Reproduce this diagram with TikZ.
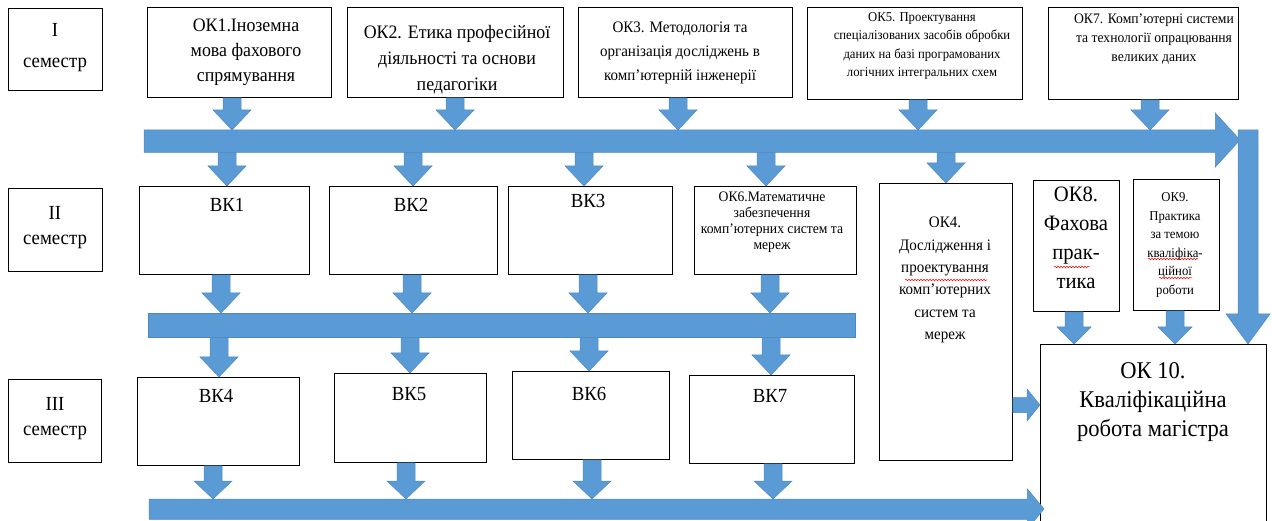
\documentclass[tikz,border=0pt]{standalone}
\usepackage{fontspec}
\setmainfont{Liberation Serif}[FakeStretch=0.94]
\usetikzlibrary{calc,decorations.pathmorphing}
\definecolor{ablue}{HTML}{5B9BD5}
\definecolor{aedge}{HTML}{4F88BF}
\tikzset{
 box/.style={draw=black, line width=0.9pt, anchor=north west, inner sep=0pt, fill=white},
 txt/.style={align=center, inner sep=0pt},
 barshape/.style={anchor=north west, inner sep=0pt, draw=none},
 barrow/.style={fill=ablue, draw=aedge, line width=0.5pt},
 spell/.style={draw=red, line width=0.5pt, decorate, decoration={snake, amplitude=0.7pt, segment length=3pt}}
}
\newcommand\fs[2]{\fontsize{#1}{#2}\selectfont}
% vertical block arrow: x, from, to, shaft half, head half, head length
\newcommand\vdown[6]{%
 \path[barrow] let \p1=(#2), \p2=(#3) in
 (#1pt-#4pt,\y1) -- (#1pt+#4pt,\y1) -- (#1pt+#4pt,\y2+#6pt) -- (#1pt+#5pt,\y2+#6pt) -- (#1pt,\y2) -- (#1pt-#5pt,\y2+#6pt) -- (#1pt-#4pt,\y2+#6pt) -- cycle;}
% horizontal block arrow: y(image), from, to, shaft half, head half, head length
\newcommand\hright[6]{%
 \path[barrow] let \p1=(#2), \p2=(#3) in
 (\x1,-#1pt+#4pt) -- (\x2-#6pt,-#1pt+#4pt) -- (\x2-#6pt,-#1pt+#5pt) -- (\x2,-#1pt) -- (\x2-#6pt,-#1pt-#5pt) -- (\x2-#6pt,-#1pt-#4pt) -- (\x1,-#1pt-#4pt) -- cycle;}
% bar with arrow head: bar node, tip coordinate, head half
\newcommand\headbar[3]{%
 \path[barrow] let \p1=(#1.north west), \p2=(#1.south east), \p3=(#2) in
 (\x1,\y1) -- (\x2,\y1) -- (\x2,\y3+#3pt) -- (\p3) -- (\x2,\y3-#3pt) -- (\x2,\y2) -- (\x1,\y2) -- cycle;}

\begin{document}
\begin{tikzpicture}[x=1pt,y=-1pt]
\useasboundingbox (0,0) rectangle (1272,521);
\clip (0,0) rectangle (1272,521);

% semester boxes
\node[box, minimum width=94pt, minimum height=82pt] (s1) at (8,8) {};
\node[txt, font=\fs{20}{31}] (s1t) at (55,48) {I\\семестр};
\node[box, minimum width=94pt, minimum height=83pt] (s2) at (8,188) {};
\node[txt, font=\fs{20}{25}] (s2t) at (55,228) {II\\семестр};
\node[box, minimum width=93pt, minimum height=83pt] (s3) at (8,379) {};
\node[txt, font=\fs{20}{25}] (s3t) at (55,419) {III\\семестр};

% row 1
\node[box, minimum width=184pt, minimum height=90pt] (ok1) at (147,7) {};
\node[txt, font=\fs{19}{25}] (ok1t) at (246,52) {ОК1.Іноземна\\мова фахового\\спрямування};
\node[box, minimum width=216pt, minimum height=90pt] (ok2) at (347,7) {};
\node[txt, font=\fs{19}{26}] (ok2t) at (457,60) {ОК2. Етика професійної\\діяльності та основи\\педагогіки};
\node[box, minimum width=214pt, minimum height=90pt] (ok3) at (578,7) {};
\node[txt, font=\fs{16}{24}] (ok3t) at (680,53) {ОК3. Методологія та\\організація досліджень в\\комп’ютерній інженерії};
\node[box, minimum width=215pt, minimum height=92pt] (ok5) at (807,7) {};
\node[txt, font=\fs{13.5}{18.5}] (ok5t) at (922,46) {ОК5. Проектування\\спеціалізованих засобів обробки\\даних на базі програмованих\\логічних інтегральних схем};
\node[box, minimum width=190pt, minimum height=92pt] (ok7) at (1048,7) {};
\node[txt, font=\fs{14.5}{19}] (ok7t) at (1154,39) {ОК7. Комп’ютерні системи\\та технології опрацювання\\великих даних};

% row 2
\node[box, minimum width=170pt, minimum height=88pt] (bk1) at (139,186) {};
\node[txt, font=\fs{20}{23}] (bk1t) at (227,205) {ВК1};
\node[box, minimum width=168pt, minimum height=88pt] (bk2) at (329,186) {};
\node[txt, font=\fs{20}{23}] (bk2t) at (411,205) {ВК2};
\node[box, minimum width=164pt, minimum height=88pt] (bk3) at (508,186) {};
\node[txt, font=\fs{20}{23}] (bk3t) at (588,201) {ВК3};
\node[box, minimum width=162pt, minimum height=88pt] (ok6) at (694,186) {};
\node[txt, font=\fs{14.5}{16}] (ok6t) at (772,222) {ОК6.Математичне\\забезпечення\\комп’ютерних систем та\\мереж};
\node[box, minimum width=133pt, minimum height=277pt] (ok4) at (879,183) {};
\node[txt, font=\fs{16}{22.3}] (ok4t) at (945,280) {ОК4.\\Дослідження і\\проектування\\комп’ютерних\\систем та\\мереж};
\node[box, minimum width=86pt, minimum height=131pt] (ok8) at (1033,180) {};
\node[txt, font=\fs{22}{29}] (ok8t) at (1076,238) {ОК8.\\Фахова\\прак-\\тика};
\node[box, minimum width=86pt, minimum height=131pt] (ok9) at (1133,179) {};
\node[txt, font=\fs{13.5}{18.6}] (ok9t) at (1175,245) {ОК9.\\Практика\\за темою\\кваліфіка-\\ційної\\роботи};

% row 3
\node[box, minimum width=162pt, minimum height=88pt] (bk4) at (137,377) {};
\node[txt, font=\fs{20}{23}] (bk4t) at (216,396) {ВК4};
\node[box, minimum width=152pt, minimum height=89pt] (bk5) at (334,373) {};
\node[txt, font=\fs{20}{23}] (bk5t) at (409,394) {ВК5};
\node[box, minimum width=157pt, minimum height=88pt] (bk6) at (512,371) {};
\node[txt, font=\fs{20}{23}] (bk6t) at (589,394) {ВК6};
\node[box, minimum width=165pt, minimum height=88pt] (bk7) at (689,375) {};
\node[txt, font=\fs{20}{23}] (bk7t) at (770,396) {ВК7};
\node[box, minimum width=226pt, minimum height=200pt] (ok10) at (1040,344) {};
\node[txt, font=\fs{24}{29}] (ok10t) at (1153,402) {ОК 10.\\Кваліфікаційна\\робота магістра};

% spell-check marks
\path[spell] (905,280) -- (987,280);
\path[spell] (1054,267) -- (1090,267);
\path[spell] (1148,259) -- (1198,259);
\path[spell] (1159,278) -- (1192,278);

% bars
\node[barshape, minimum width=1071pt, minimum height=22pt] (bar1) at (144,130) {};
\coordinate (bar1tip) at (1240,140);
\headbar{bar1}{bar1tip}{27}
\node[barshape, barrow, minimum width=707pt, minimum height=24pt] (bar2) at (148,313) {};
\node[barshape, minimum width=878pt, minimum height=20pt] (bar3) at (149,499) {};
\coordinate (bar3tip) at (1044,509);
\headbar{bar3}{bar3tip}{20}

% row 1 -> bar1
\vdown{232}{ok1.south}{bar1.north}{9}{19}{20}
\vdown{455}{ok2.south}{bar1.north}{9}{19}{20}
\vdown{678}{ok3.south}{bar1.north}{9}{19}{20}
\vdown{918}{ok5.south}{bar1.north}{9}{19}{20}
\vdown{1150}{ok7.south}{bar1.north}{9}{19}{20}
% bar1 -> row 2
\vdown{227}{bar1.south}{bk1.north}{9}{19}{20}
\vdown{413}{bar1.south}{bk2.north}{9}{19}{20}
\vdown{584}{bar1.south}{bk3.north}{9}{19}{20}
\vdown{766}{bar1.south}{ok6.north}{9}{19}{20}
\vdown{946}{bar1.south}{ok4.north}{9}{19}{20}
% row 2 -> bar2
\vdown{221}{bk1.south}{bar2.north}{9}{19}{20}
\vdown{412}{bk2.south}{bar2.north}{9}{19}{20}
\vdown{588}{bk3.south}{bar2.north}{9}{19}{20}
\vdown{770}{ok6.south}{bar2.north}{9}{19}{20}
% bar2 -> row 3
\vdown{219}{bar2.south}{bk4.north}{9}{19}{20}
\vdown{410}{bar2.south}{bk5.north}{9}{19}{20}
\vdown{589}{bar2.south}{bk6.north}{9}{19}{20}
\vdown{771}{bar2.south}{bk7.north}{9}{19}{20}
% row 3 -> bar3
\vdown{213}{bk4.south}{bar3.north}{9}{19}{18}
\vdown{406}{bk5.south}{bar3.north}{9}{19}{18}
\vdown{592}{bk6.south}{bar3.north}{9}{19}{18}
\vdown{773}{bk7.south}{bar3.north}{9}{19}{18}
% into OK10
\vdown{1074}{ok8.south}{ok10.north}{9}{17}{17}
\vdown{1175}{ok9.south}{ok10.north}{9}{17}{17}
\vdown{1248}{bar1.north}{ok10.north}{10}{22}{30}
\hright{405}{ok4.east}{ok10.west}{7.5}{16}{13}
\end{tikzpicture}
\end{document}
